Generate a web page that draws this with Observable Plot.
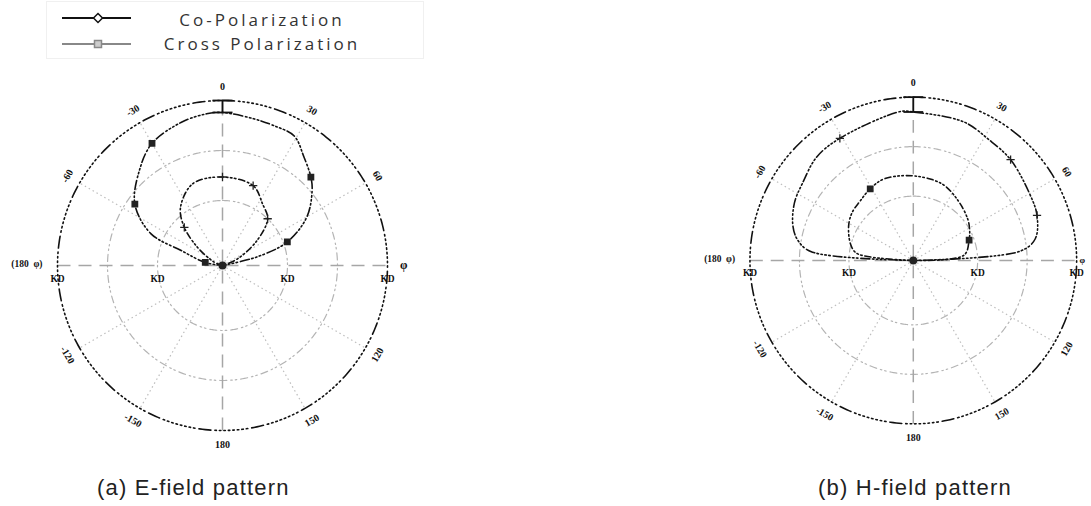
<!DOCTYPE html>
<html><head><meta charset="utf-8">
<script src="https://cdn.jsdelivr.net/npm/d3@7"></script>
<script src="https://cdn.jsdelivr.net/npm/@observablehq/plot@0.6"></script>
<style>
html,body{margin:0;padding:0;background:#fff;overflow:hidden;width:1091px;height:506px;}
#root{position:relative;width:1091px;height:506px;}
.plot{position:absolute;}
.cap{position:absolute;font-family:"Liberation Sans",Arial,sans-serif;font-size:22px;letter-spacing:1.2px;color:#222;white-space:nowrap;line-height:24px;}
#legend{position:absolute;left:46px;top:1px;width:376px;height:56px;border:1px solid #f0f0f0;}
.lt{position:absolute;left:100px;width:230px;text-align:center;font-family:"Open Sans",sans-serif;font-size:17px;letter-spacing:3px;color:#333;line-height:20px;}
</style></head>
<body><div id="root">
<div id="legend"></div>
<div id="plotA" class="plot" style="left:2px;top:65px"></div>
<div id="plotB" class="plot" style="left:695px;top:62px"></div>
<div id="capA" class="cap" style="left:97px;top:476px"></div>
<div id="capB" class="cap" style="left:818px;top:476px"></div>
</div>
<script>
// ---------- data ----------
const seriesNames = ["Co-Polarization", "Cross Polarization"];
const captions = ["(a) E-field pattern", "(b) H-field pattern"];

// (a) E-field, angle in degrees (0 = top, clockwise), level in dB
const eCoAngle = [-180,-90,-80,-70,-66,-55,-41,-30,-16,-6,0,12,20,29,37,45,50,60,70,76,82,90,180];
const eCoDb    = [-33,-33,-29.5,-24.1,-17.3,-11.6,-7.7,-4.8,-3.2,-2.5,-2.4,-3.0,-3.2,-3.4,-5.9,-8.0,-9.6,-13.5,-19.2,-25.9,-33,-33,-33];
const eXAngle  = [-180,-90,-75,-68,-54,-45,-36,-20,0,21,33,44,54,66,75,90,180];
const eXDb     = [-33,-33,-33,-31.2,-26.8,-22.2,-18.7,-15.6,-15.3,-15.9,-18.3,-20.0,-24.4,-29.7,-33,-33,-33];
const eCoMarks = [-80,-55,-30,45,70];
const eXMarks  = [-45,0,21,44];

// (b) H-field
const hCoAngle = [-180,-90,-85,-80,-74,-64,-55,-43,-31,-5,0,20,32,44,60,70,80,85,90,180];
const hCoDb    = [-33,-33,-12.2,-9.3,-7.7,-6.3,-5.7,-4.4,-4.2,-2.8,-3.0,-3.2,-4.2,-4.7,-5.9,-6.4,-8.0,-11.3,-33,-33];
const hXAngle  = [-180,-90,-83,-76,-62,-52,-42,-31,-20,0,21,38,53,61,70,84,90,180];
const hXDb     = [-33,-33,-21.6,-20.0,-18.2,-17.3,-16.9,-16.1,-15.5,-15.9,-16.5,-18.0,-19.2,-20.0,-21.0,-22.7,-33,-33];
const hCoMarks = [-31,44,70];
const hXMarks  = [-31,70];

// axes
const dbMin = -33;
const ringDb = [-20, -10];
const outerDb = 0;
const spokeAngles = [30,60,120,150,210,240,300,330];
const angleTicks  = [0,30,60,120,150,180,-150,-120,-60,-30];
const angleLabels = ["0","30","60","120","150","180","-150","-120","-60","-30"];
const radialTickDb = [-20, 0];
const radialTickLabel = "KD";
const rightLabel = "φ";
const leftLabel = "(180  φ)";

// ---------- helpers ----------
const rad = a => a * Math.PI / 180;
const rho = db => Math.max(0, db - dbMin);
const pt = (a, db) => ({a, db, x: rho(db) * Math.sin(rad(a)), y: rho(db) * Math.cos(rad(a))});
const series = (angles, dbs) => angles.map((a, i) => pt(a, dbs[i]));
const pick = (angles, dbs, marks) => marks.map(m => pt(m, dbs[angles.indexOf(m)]));

const ringPts = [];
for (const d of [...ringDb, outerDb]) for (const a of d3.range(0, 361, 1)) ringPts.push({...pt(a, d), ring: d});

function markerMark(data, sym) {
  return sym === "square"
    ? Plot.dot(data, {x: "x", y: "y", symbol: "square", r: 3, fill: "#222", stroke: "#222"})
    : Plot.dot(data, {x: "x", y: "y", symbol: "plus", r: 2.8, stroke: "#222", strokeWidth: 1.3});
}

function polar(coA, coD, xA, xD, coM, xM, coSym, xSym, phiGap, phiSize) {
  const co = series(coA, coD), cr = series(xA, xD);
  const co0 = coD[coA.indexOf(0)];
  const R = rho(outerDb);
  const spokes = spokeAngles.map(a => ({x1: 0, y1: 0, x2: R * Math.sin(rad(a)), y2: R * Math.cos(rad(a))}));
  const labels = angleTicks.map((a, i) => {
    const p = pt(a, outerDb + 2.8);
    return {x: p.x, y: p.y, t: angleLabels[i], rot: Math.abs(a) <= 90 ? a : a - 180 * Math.sign(a)};
  });
  const rticks = [];
  for (const d of radialTickDb) for (const s of [-1, 1]) rticks.push({x: s * rho(d), y: 0});
  const caps = [rho(co0), R].map(y => ({x1: -2, x2: 2, y}));
  return Plot.plot({
    width: 400, height: 400,
    marginTop: 0, marginRight: 0, marginBottom: 0, marginLeft: 0,
    x: {domain: [-44, 36], axis: null},
    y: {domain: [-40, 40], axis: null},
    style: {background: "transparent", overflow: "visible"},
    marks: [
      Plot.line(ringPts.filter(d => d.ring !== outerDb), {x: "x", y: "y", z: "ring", stroke: "#b4b4b4", strokeWidth: 1.2, strokeDasharray: "7 4 1.5 3 1.5 4"}),
      Plot.link(spokes, {x1: "x1", y1: "y1", x2: "x2", y2: "y2", stroke: "#bdbdbd", strokeWidth: 1.2, strokeDasharray: "1.5 3"}),
      Plot.link([{x1: -R, x2: R, y1: 0, y2: 0}, {x1: 0, x2: 0, y1: -R, y2: R}], {x1: "x1", y1: "y1", x2: "x2", y2: "y2", stroke: "#a6a6a6", strokeWidth: 1.5, strokeDasharray: "13 8"}),
      Plot.line(ringPts.filter(d => d.ring === outerDb), {x: "x", y: "y", stroke: "#111", strokeWidth: 1.6, strokeDasharray: "12 4 1.5 3 1.5 3 1.5 3 1.5 3 1.5 3 1.5 3 1.5 3 1.5 4"}),
      Plot.line(cr, {x: "x", y: "y", curve: "catmull-rom", stroke: "#111", strokeWidth: 1.6, strokeDasharray: "6 3 1.5 2.5 1.5 2.5 1.5 3"}),
      Plot.line(co, {x: "x", y: "y", curve: "catmull-rom", stroke: "#111", strokeWidth: 1.6, strokeDasharray: "1.5 2.5 1.5 2.5 1.5 2.5 1.5 2.5 9 3"}),
      Plot.link([{x1: 0, x2: 0, y1: rho(co0), y2: R}], {x1: "x1", y1: "y1", x2: "x2", y2: "y2", stroke: "#111", strokeWidth: 1.8}),
      Plot.link(caps, {x1: "x1", x2: "x2", y1: "y", y2: "y", stroke: "#111", strokeWidth: 1.8}),
      markerMark(pick(coA, coD, coM), coSym),
      markerMark(pick(xA, xD, xM), xSym),
      Plot.dot([pt(0, dbMin)], {x: "x", y: "y", symbol: "circle", r: 4, fill: "#222"}),
      Plot.text(labels, {x: "x", y: "y", text: "t", rotate: "rot", fontSize: 10, fontWeight: "bold", fontFamily: "Liberation Serif", fill: "#111"}),
      Plot.text(rticks, {x: "x", y: "y", text: () => radialTickLabel, dy: 13, fontSize: 9.5, fontWeight: "bold", fontFamily: "Liberation Serif", fill: "#111"}),
      Plot.text([{x: R + phiGap, y: 0}], {x: "x", y: "y", text: () => rightLabel, textAnchor: "start", fontSize: phiSize, fontWeight: "bold", fontFamily: "Liberation Serif", fill: "#111"}),
      Plot.text([{x: -R - 3, y: 0}], {x: "x", y: "y", text: () => leftLabel, dy: -2, textAnchor: "end", fontSize: 9.5, fontWeight: "bold", fontFamily: "Liberation Serif", fill: "#111"})
    ]
  });
}

try {
  document.getElementById("plotA").append(polar(eCoAngle, eCoDb, eXAngle, eXDb, eCoMarks, eXMarks, "square", "plus", 2.5, 12));
  document.getElementById("plotB").append(polar(hCoAngle, hCoDb, hXAngle, hXDb, hCoMarks, hXMarks, "plus", "square", 0.6, 9));
} catch (e) {
  const p = document.createElement("pre"); p.textContent = e.stack; document.getElementById("root").appendChild(p);
}
document.getElementById("capA").textContent = captions[0];
document.getElementById("capB").textContent = captions[1];

// legend
const lg = document.getElementById("legend");
lg.innerHTML = `<svg width="376" height="56" style="position:absolute;left:0;top:0">
  <line x1="15" y1="16" x2="84" y2="16" stroke="#111" stroke-width="2.2"/>
  <path d="M51,11.5 L55.5,16 L51,20.5 L46.5,16Z" fill="#fff" stroke="#111" stroke-width="1.5"/>
  <line x1="15" y1="42" x2="84" y2="42" stroke="#888" stroke-width="2.2"/>
  <rect x="47.5" y="38.5" width="7" height="7" fill="#ccc" stroke="#888" stroke-width="1.5"/>
</svg>`;
seriesNames.forEach((n, i) => {
  const d = document.createElement("div");
  d.className = "lt"; d.style.top = (i === 0 ? 8 : 32) + "px"; d.textContent = n;
  lg.appendChild(d);
});
</script>
</body></html>
